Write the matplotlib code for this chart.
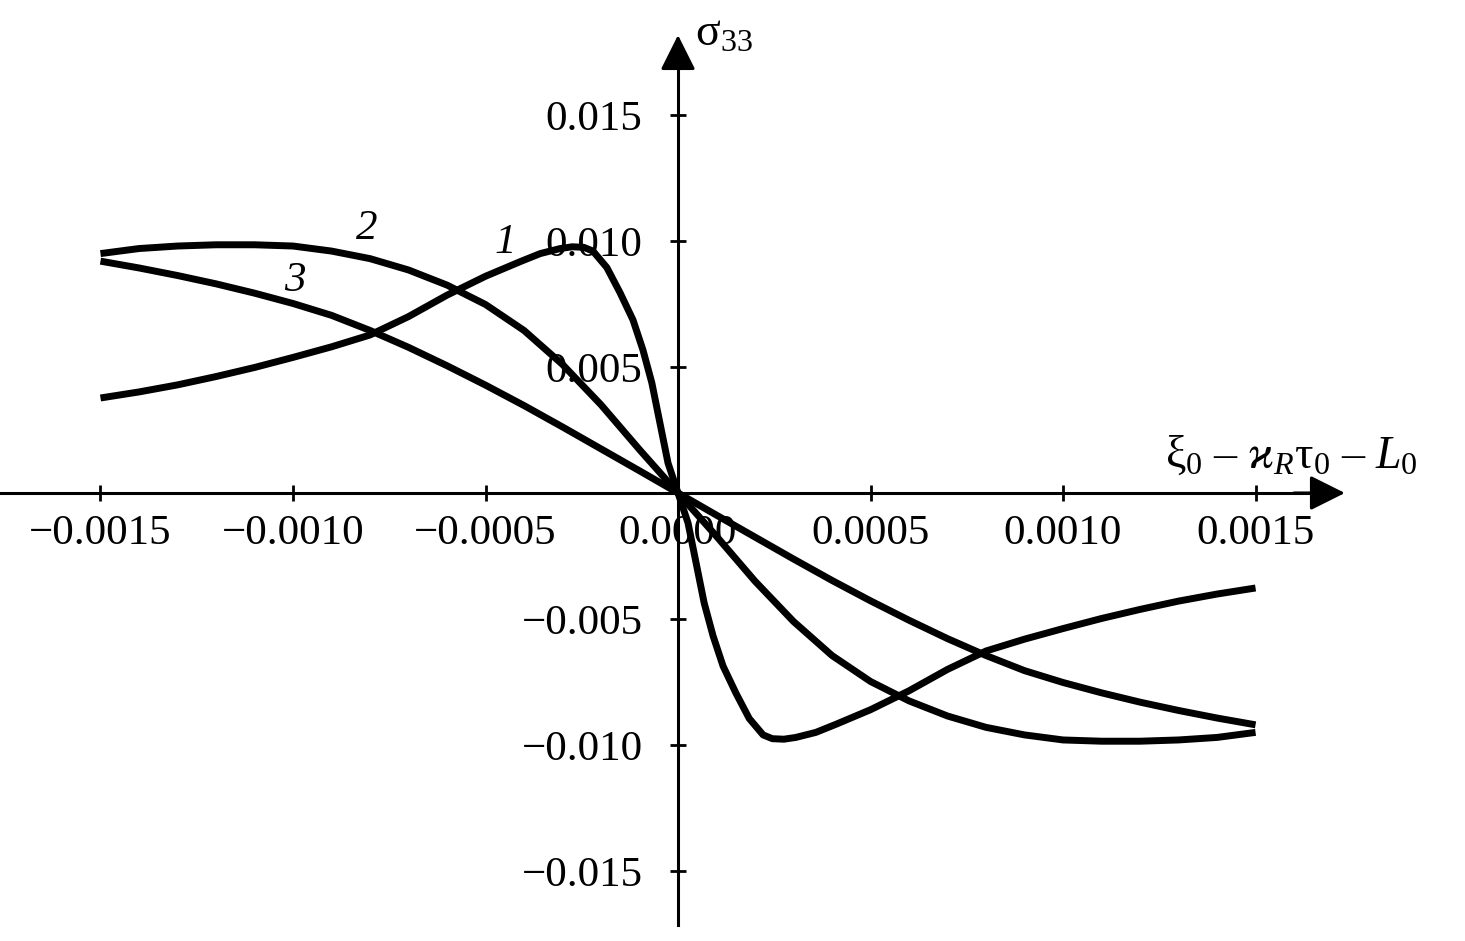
import matplotlib
matplotlib.use("Agg")
import matplotlib.pyplot as plt

plt.rcParams['font.family'] = ['Liberation Serif', 'DejaVu Serif']
plt.rcParams['mathtext.fontset'] = 'custom'
plt.rcParams['mathtext.rm'] = 'Liberation Serif'
plt.rcParams['mathtext.it'] = 'Liberation Serif:italic'
plt.rcParams['mathtext.bf'] = 'Liberation Serif:bold'

# curve 1 (sharp peak near the origin)
x1 = [-0.0015, -0.0014, -0.0013, -0.0012, -0.0011, -0.0010, -0.0009, -0.0008,
      -0.0007, -0.0006, -0.0005, -0.00041, -0.000358, -0.000306, -0.000275,
      -0.000245, -0.000221, -0.000185, -0.000151, -0.000117, -0.000091,
      -0.000068, -0.000047, -0.000026, 0.0,
      0.000026, 0.000047, 0.000068, 0.000091, 0.000117, 0.000151, 0.000185,
      0.000221, 0.000245, 0.000275, 0.000306, 0.000358, 0.00041, 0.0005,
      0.0006, 0.0007, 0.0008, 0.0009, 0.0010, 0.0011, 0.0012, 0.0013,
      0.0014, 0.0015]
y1 = [0.00377, 0.00401, 0.00429, 0.00462, 0.00498, 0.00538, 0.00580, 0.00627,
      0.00700, 0.00785, 0.00860, 0.00918, 0.00950, 0.00970, 0.00977,
      0.00975, 0.00960, 0.00895, 0.00796, 0.00687, 0.00567,
      0.00437, 0.00278, 0.00119, 0.0,
      -0.00119, -0.00278, -0.00437, -0.00567, -0.00687, -0.00796, -0.00895,
      -0.00960, -0.00975, -0.00977, -0.00970, -0.00950, -0.00918, -0.00860,
      -0.00785, -0.00700, -0.00627, -0.00580, -0.00538, -0.00498, -0.00462,
      -0.00429, -0.00401, -0.00377]

# curves 2 and 3
x23 = [-0.0015, -0.0014, -0.0013, -0.0012, -0.0011, -0.0010, -0.0009, -0.0008,
       -0.0007, -0.0006, -0.0005, -0.0004, -0.0003, -0.0002, -0.0001, 0.0,
       0.0001, 0.0002, 0.0003, 0.0004, 0.0005, 0.0006, 0.0007, 0.0008,
       0.0009, 0.0010, 0.0011, 0.0012, 0.0013, 0.0014, 0.0015]
y2 = [0.00950, 0.00970, 0.00980, 0.00985, 0.00985, 0.00980, 0.00960, 0.00930,
      0.00885, 0.00825, 0.00748, 0.00645, 0.00510, 0.00350, 0.00172, 0.0,
      -0.00172, -0.00350, -0.00510, -0.00645, -0.00748, -0.00825, -0.00885,
      -0.00930, -0.00960, -0.00980, -0.00985, -0.00985, -0.00980, -0.00970,
      -0.00950]
y3 = [0.00920, 0.00893, 0.00863, 0.00830, 0.00793, 0.00752, 0.00705, 0.00645,
      0.00578, 0.00505, 0.00428, 0.00347, 0.00262, 0.00175, 0.00088, 0.0,
      -0.00088, -0.00175, -0.00262, -0.00347, -0.00428, -0.00505, -0.00578,
      -0.00645, -0.00705, -0.00752, -0.00793, -0.00830, -0.00863, -0.00893,
      -0.00920]

xticks = [-0.0015, -0.0010, -0.0005, 0.0, 0.0005, 0.0010, 0.0015]
xtick_labels = ['\u22120.0015', '\u22120.0010', '\u22120.0005', '0.0000',
                '0.0005', '0.0010', '0.0015']
yticks = [-0.015, -0.010, -0.005, 0.005, 0.010, 0.015]
ytick_labels = ['\u22120.015', '\u22120.010', '\u22120.005', '0.005',
                '0.010', '0.015']

fig = plt.figure(figsize=(14.65, 9.41), dpi=100)
ax = fig.add_axes([0, 0, 1, 1])
ax.set_xlim(-0.001761, 0.002044)
ax.set_ylim(-0.017778, 0.019563)

# axes through the origin
for side in ['top', 'right']:
    ax.spines[side].set_visible(False)
ax.spines['left'].set_position(('data', 0))
ax.spines['bottom'].set_position(('data', 0))
ax.spines['left'].set_bounds(-0.01714, 0.0175)
ax.spines['bottom'].set_bounds(-0.001761, 0.0017)
ax.spines['left'].set_linewidth(2.2)
ax.spines['bottom'].set_linewidth(2.2)

ax.annotate('', xy=(0.001732, 0), xytext=(0.0016, 0),
            arrowprops=dict(arrowstyle='-|>,head_length=21.6,head_width=10.8',
                            mutation_scale=1, color='black', lw=2.2,
                            shrinkA=0, shrinkB=0))
ax.annotate('', xy=(0, 0.01817), xytext=(0, 0.0170),
            arrowprops=dict(arrowstyle='-|>,head_length=21.6,head_width=10.8',
                            mutation_scale=1, color='black', lw=2.2,
                            shrinkA=0, shrinkB=0))

ax.set_xticks(xticks)
ax.set_xticklabels(xtick_labels)
ax.set_yticks(yticks)
ax.set_yticklabels(ytick_labels)
ax.tick_params(axis='both', direction='inout', length=11, width=2,
               labelsize=31)
ax.tick_params(axis='x', pad=10)
ax.tick_params(axis='y', pad=20)

for xs, ys in [(x1, y1), (x23, y2), (x23, y3)]:
    ax.plot(xs, ys, color='black', lw=5.0, solid_capstyle='butt',
            solid_joinstyle='round')

ax.text(-0.000449, 0.00992, '1', fontsize=31, style='italic',
        ha='center', va='center')
ax.text(-0.000808, 0.0105, '2', fontsize=31, style='italic',
        ha='center', va='center')
ax.text(-0.000995, 0.00841, '3', fontsize=31, style='italic',
        ha='center', va='center')

minus = '\\ \\mathrm{\u2013}\\ '
xlabel = ('$\\mathrm{\\xi}_{\\mathrm{0}}' + minus + '\\varkappa_{R}\\mathrm{\\tau}_{\\mathrm{0}}'
          + minus + 'L_{\\mathrm{0}}$')
ax.text(0.001922, 0.00099, xlabel, fontsize=33, ha='right', va='baseline')
ax.text(0.0000442, 0.01775, r'$\mathrm{\sigma}_{\mathrm{33}}$',
        fontsize=33, ha='left', va='baseline')

fig.savefig('out.png', dpi=100)
